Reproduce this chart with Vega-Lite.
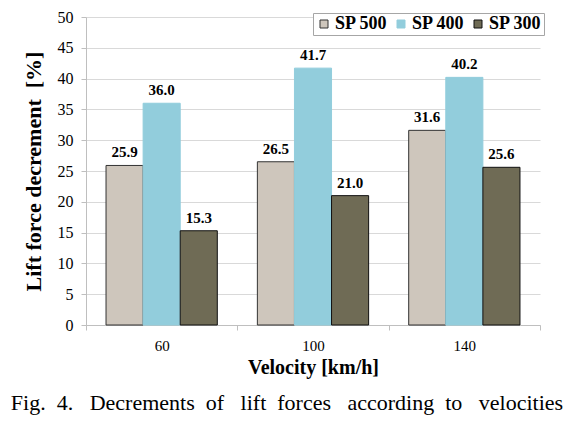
{
  "$schema": "https://vega.github.io/schema/vega-lite/v6.json",
  "width": 454,
  "height": 308,
  "autosize": {"type": "none"},
  "padding": {"left": 86, "top": 17, "right": 44, "bottom": 106},
  "background": "white",
  "title": {
    "text": "Fig.\u00a0 4.\u00a0\u00a0 Decrements\u00a0 of\u00a0\u00a0 lift\u00a0 forces\u00a0\u00a0 according\u00a0 to\u00a0\u00a0 velocities",
    "orient": "bottom",
    "anchor": "middle",
    "font": "Liberation Serif",
    "fontSize": 22,
    "fontWeight": "normal",
    "color": "black",
    "offset": 16,
    "dx": -26
  },
  "data": {
    "values": [
      {"velocity": "60", "series": "SP 500", "value": 25.9},
      {"velocity": "60", "series": "SP 400", "value": 36.0},
      {"velocity": "60", "series": "SP 300", "value": 15.3},
      {"velocity": "100", "series": "SP 500", "value": 26.5},
      {"velocity": "100", "series": "SP 400", "value": 41.7},
      {"velocity": "100", "series": "SP 300", "value": 21.0},
      {"velocity": "140", "series": "SP 500", "value": 31.6},
      {"velocity": "140", "series": "SP 400", "value": 40.2},
      {"velocity": "140", "series": "SP 300", "value": 25.6}
    ]
  },
  "encoding": {
    "x": {
      "field": "velocity",
      "type": "ordinal",
      "sort": ["60", "100", "140"],
      "scale": {"paddingInner": 0, "paddingOuter": 0},
      "axis": {
        "title": "Velocity [km/h]",
        "labelAngle": 0,
        "tickBand": "extent",
        "tickSize": 5,
        "labelPadding": 8,
        "titlePadding": 4,
        "labelFont": "Liberation Serif",
        "labelFontSize": 15,
        "labelColor": "black",
        "titleFont": "Liberation Serif",
        "titleFontSize": 20,
        "titleFontWeight": "bold",
        "titleColor": "black",
        "domainColor": "#BFBFBF",
        "tickColor": "#BFBFBF",
        "grid": false
      }
    },
    "xOffset": {
      "field": "series",
      "type": "nominal",
      "sort": ["SP 500", "SP 400", "SP 300"],
      "scale": {"paddingInner": 0, "paddingOuter": 0.54}
    },
    "y": {
      "field": "value",
      "type": "quantitative",
      "scale": {"domain": [0, 50], "nice": false},
      "axis": {
        "title": "Lift force decrement \u00a0[%]",
        "values": [0, 5, 10, 15, 20, 25, 30, 35, 40, 45, 50],
        "labelOverlap": false,
        "tickSize": 5,
        "labelPadding": 8,
        "titlePadding": 12,
        "labelFont": "Liberation Serif",
        "labelFontSize": 16,
        "labelColor": "black",
        "titleFont": "Liberation Serif",
        "titleFontSize": 22,
        "titleFontWeight": "bold",
        "titleColor": "black",
        "domainColor": "#BFBFBF",
        "tickColor": "#BFBFBF",
        "gridColor": "#D9D9D9",
        "grid": true
      }
    }
  },
  "layer": [
    {
      "mark": {"type": "bar", "strokeWidth": 1},
      "encoding": {
        "fill": {
          "field": "series",
          "type": "nominal",
          "sort": ["SP 500", "SP 400", "SP 300"],
          "scale": {"domain": ["SP 500", "SP 400", "SP 300"], "range": ["#CEC6BC", "#92CDDC", "#6F6B55"]},
          "legend": {
            "title": null,
            "orient": "none",
            "direction": "horizontal",
            "legendX": 227,
            "legendY": -4,
            "symbolType": "square",
            "symbolSize": 64,
            "symbolStrokeWidth": 1,
            "labelFont": "Liberation Serif",
            "labelFontSize": 18,
            "labelFontWeight": "bold",
            "labelColor": "black",
            "labelOffset": 2,
            "columnPadding": 4,
            "padding": 2,
            "strokeColor": "#A6A6A6",
            "fillColor": "white"
          }
        },
        "stroke": {
          "field": "series",
          "type": "nominal",
          "sort": ["SP 500", "SP 400", "SP 300"],
          "scale": {"domain": ["SP 500", "SP 400", "SP 300"], "range": ["#333333", "#92CDDC", "#111111"]},
          "legend": null
        }
      }
    },
    {
      "mark": {
        "type": "text",
        "baseline": "bottom",
        "dy": -5,
        "font": "Liberation Serif",
        "fontSize": 15,
        "fontWeight": "bold",
        "color": "black"
      },
      "encoding": {
        "text": {"field": "value", "type": "quantitative", "format": ".1f"}
      }
    }
  ],
  "config": {
    "font": "Liberation Serif",
    "view": {"stroke": null}
  }
}
